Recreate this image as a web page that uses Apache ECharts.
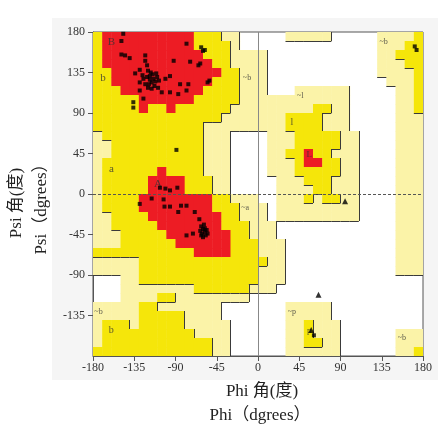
<!DOCTYPE html>
<html>
<head>
<meta charset="utf-8">
<script src="https://cdn.jsdelivr.net/npm/echarts@6/dist/echarts.min.js"></script>
<style>
  html, body { margin: 0; padding: 0; background: #fff; }
  #chart { width: 443px; height: 428px; }
</style>
</head>
<body>
<div id="chart"></div>
<script>
// 区域网格：每格10度，行从 psi=180 往下，列从 phi=-180 往右
// . 空白  p 宽松允许  y 允许  r 最适宜
var regionRows = [
  'yrrrrrrrrrryyypp.....ppppp.....ppppy',
  'yrrrrrrrrrryyyyp...............pppyy',
  'yrrrrrrrrrrryyypppp............ppyyy',
  'yrrrrrrrrrrrryypppp............pppyy',
  'yyrrrrrrrrrrrryyppp............ppppy',
  'yyrrrrrrrrrrryyyppp.............pppy',
  'yyyrrrrrrrrryyyyppp...pppppp.....ppy',
  'yyyyyrrrrrryyyyypppppppppppp.....ppy',
  'yyyyyryyryyyyyypppppppppyypp.....ppy',
  'yyyyyyyyyyyyyypppppppyyyyppp.....ppp',
  'yyyyyyyyyyyypppppppppyyyyppp.....ppp',
  'pyyyyyyyyyyyppp....pppyyyyypp....ppp',
  'ppyyyyyyyyyyppp....pppyyyyypp....ppp',
  'ppyyyyyyyyyyppp....ppyyryyppp....ppp',
  'pyyyyyyyyyyyppp....pppyrryypp....ppp',
  'pyyyyyyryyyyppp....pppyyyyypp....ppp',
  'pyyyyyrrrryyypp.....pppyyyppp....ppp',
  'pyyyyyrrrryyypp.....ppppyyppp....ppp',
  'pyyyyrrrrrrrryyppp..pppypyypp....ppp',
  'pyyyyrrrrrrrryyyppp.ppppppppp....ppp',
  'ppyyyyrrrrrrrryyppp.ppppppppp....ppp',
  'ppyyyyyrrrrrrryyyppp.............ppp',
  'pppyyyyyrrrrrrryyppp.............ppp',
  'pppyyyyyyrrrrrryyyppp............ppp',
  'yyyyyyyyyyyrrrryyyppp............ppp',
  'pppppyyyyyyyyyyyyyypp............ppp',
  'pppppyyyyyyyyyyyyyppp............ppp',
  '...ppyyyyyyyyyyyyyppp...............',
  '...ppppppppyyyyyyppp................',
  '...ppppyypppppppp...................',
  'pppppyyppppppp.......ppppp..........',
  'pppppyyyyypppp.......ppppp..........',
  'pyyypyyyyyppppp......ppyppp.........',
  'pyyyyyyyyyypppp......ppyppp......ppp',
  'pyyyyyyyyyyyypp......ppyypp......ppp',
  'yyyyyyyyyyyyypp......pppppp......ppy'
];

// 数据点 [phi, psi]
var squarePts = [
  [-147, 178], [-149, 170], [-149, 155], [-145, 154], [-140, 151], [-123, 154],
  [-123, 148], [-121, 143], [-134, 134], [-129, 138], [-120, 137], [-118, 131],
  [-125, 128], [-129, 124], [-114, 128], [-110, 130], [-116, 124], [-123, 122],
  [-120, 118], [-129, 115], [-125, 106], [-116, 117], [-109, 118], [-105, 113],
  [-96, 113], [-101, 128], [-96, 131], [-92, 148], [-85, 122], [-87, 111],
  [-78, 115], [-76, 122], [-74, 147], [-78, 167], [-65, 143], [-60, 159],
  [-136, 102], [-136, 96], [-62, 163], [-63, 145], [-53, 126], [-55, 124],
  [-58, 160], [-118, 127], [-115, 133], [-112, 125], [-119, 122], [-113, 120],
  [-117, 135], [-121, 130], [-108, 126], [-111, 134], [-126, 132],
  [-89, 49],
  [-107, 7], [-101, 6], [-96, 4], [-88, 7], [-129, -11], [-116, -5], [-103, -6],
  [-102, -14], [-96, -14], [-84, -13], [-78, -13], [-87, -20], [-69, -20],
  [-64, -28], [-78, -46], [-71, -44], [-62, -36], [-60, -39], [-58, -42],
  [-61, -44], [-57, -46], [-59, -34], [-56, -40], [-63, -41], [-60, -48],
  [-55, -44], [-58, -38], [-62, -46],
  [171, 164], [173, 160], [61, -157]
];
var trianglePts = [[95, -8], [66, -112], [58, -151]];

// 区域标记 [phi, psi, 文本, 字号]
var regionLabels = [
  [-160, 169, 'B', 11], [-169, 129, 'b', 11], [-160, 28, 'a', 11],
  [-109, 11, 'A', 11], [-12, 129, '~b', 8], [-14, -15, '~a', 8],
  [46, 109, '~l', 8], [37, 80, 'l', 10], [56, 44, 'L', 9],
  [137, 169, '~b', 8], [37, -131, '~p', 8], [56, -152, 'p', 9],
  [157, -160, '~b', 8], [-174, -131, '~b', 8], [-160, -151, 'b', 10]
];

var levelOf = { '.': 0, p: 1, y: 2, r: 3 };
var levelColors = ['#ffffff', '#fbf3a8', '#f5e60a', '#ed1c24'];
var serif = "'Liberation Serif', 'Noto Sans CJK SC', serif";

function lv(j, i) {
  return levelOf[regionRows[j].charAt(i)] || 0;
}

// 网格单元
var cells = [];
for (var j = 0; j < 36; j++) {
  for (var i = 0; i < 36; i++) {
    var l = lv(j, i);
    if (l > 0) cells.push([-180 + i * 10, 180 - j * 10, l]);
  }
}

// 区域边界线：较高区域的右边和下边
var edges = [];
for (var j = 0; j < 36; j++) {
  for (var i = 0; i < 36; i++) {
    var a = lv(j, i);
    if (a === 0 || a === 3) continue;
    var x1 = -170 + i * 10, yTop = 180 - j * 10, yBot = 170 - j * 10;
    if (i < 35 && lv(j, i + 1) < a) edges.push({ coords: [[x1, yTop], [x1, yBot]] });
    if (j < 35 && lv(j + 1, i) < a) edges.push({ coords: [[x1 - 10, yBot], [x1, yBot]] });
  }
}

var chart = echarts.init(document.getElementById('chart'));

chart.setOption({
  backgroundColor: '#fff',
  animation: false,
  graphic: [
    { type: 'rect', z: -10, shape: { x: 52, y: 18, width: 386, height: 362 }, style: { fill: '#f5f5f5' } },
    { type: 'text', x: 17, y: 203, rotation: Math.PI / 2,
      style: { text: 'Psi 角(度)', fontSize: 17, fontFamily: serif, fill: '#222', align: 'center', verticalAlign: 'middle' } },
    { type: 'text', x: 42, y: 205, rotation: Math.PI / 2,
      style: { text: 'Psi（dgrees）', fontSize: 17, fontFamily: serif, fill: '#222', align: 'center', verticalAlign: 'middle' } },
    { type: 'text', x: 262, y: 392,
      style: { text: 'Phi 角(度)', fontSize: 17, fontFamily: serif, fill: '#222', align: 'center', verticalAlign: 'middle' } },
    { type: 'text', x: 260, y: 416,
      style: { text: 'Phi（dgrees）', fontSize: 17, fontFamily: serif, fill: '#222', align: 'center', verticalAlign: 'middle' } }
  ],
  grid: {
    left: 93, top: 32, width: 330, height: 324,
    show: true, backgroundColor: '#fff', borderColor: '#555', borderWidth: 1
  },
  xAxis: {
    type: 'value', min: -180, max: 180, interval: 45,
    axisLine: { show: true, onZero: false, lineStyle: { color: '#555' } },
    axisTick: { show: true, length: 5, lineStyle: { color: '#555' } },
    axisLabel: { fontFamily: serif, fontSize: 12, color: '#333', margin: 6 },
    splitLine: { show: false }
  },
  yAxis: {
    type: 'value', min: -180, max: 180, interval: 45,
    axisLine: { show: true, onZero: false, lineStyle: { color: '#555' } },
    axisTick: { show: true, length: 5, lineStyle: { color: '#555' } },
    axisLabel: { fontFamily: serif, fontSize: 12, color: '#333', margin: 8, showMinLabel: false },
    splitLine: { show: false }
  },
  series: [
    {
      type: 'custom',
      z: 1,
      clip: true,
      silent: true,
      data: cells,
      encode: { x: 0, y: 1 },
      renderItem: function (params, api) {
        var p0 = api.coord([api.value(0), api.value(1)]);
        var p1 = api.coord([api.value(0) + 10, api.value(1) - 10]);
        return {
          type: 'rect',
          shape: { x: p0[0], y: p0[1], width: p1[0] - p0[0] + 0.5, height: p1[1] - p0[1] + 0.5 },
          style: { fill: levelColors[api.value(2)] }
        };
      }
    },
    {
      type: 'lines',
      coordinateSystem: 'cartesian2d',
      z: 2,
      silent: true,
      polyline: false,
      data: edges,
      lineStyle: { color: '#3a3a3a', width: 1, opacity: 1 }
    },
    {
      type: 'lines',
      coordinateSystem: 'cartesian2d',
      z: 3,
      silent: true,
      data: [
        { coords: [[0, -180], [0, 180]], lineStyle: { color: '#888', width: 1 } },
        { coords: [[-180, 0], [180, 0]], lineStyle: { color: '#555', width: 1, type: [3, 2] } }
      ],
      lineStyle: { opacity: 1 }
    },
    {
      type: 'scatter',
      z: 4,
      silent: true,
      symbolSize: 1,
      itemStyle: { color: 'rgba(0,0,0,0)' },
      data: regionLabels.map(function (d) {
        return {
          value: [d[0], d[1]],
          label: { show: true, position: 'inside', formatter: d[2], fontSize: d[3], fontFamily: serif, color: '#333' }
        };
      })
    },
    {
      type: 'scatter',
      z: 5,
      silent: true,
      symbol: 'rect',
      symbolSize: 4,
      itemStyle: { color: '#000' },
      data: squarePts
    },
    {
      type: 'scatter',
      z: 5,
      silent: true,
      symbol: 'triangle',
      symbolSize: 6,
      itemStyle: { color: '#000' },
      data: trianglePts
    }
  ]
});
</script>
</body>
</html>
